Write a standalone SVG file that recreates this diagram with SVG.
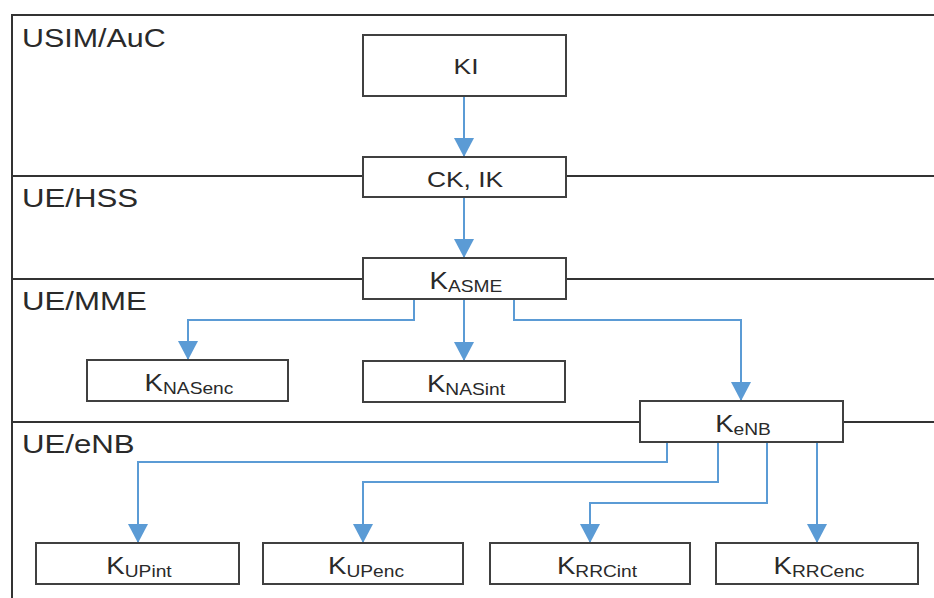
<svg xmlns="http://www.w3.org/2000/svg" width="934" height="598" viewBox="0 0 934 598">
<style>
.frame{fill:none;stroke:#333;stroke-width:2}
.box{fill:#fff;stroke:#404040;stroke-width:2}
.conn{fill:none;stroke:#5b9bd5;stroke-width:2}
.lane{font-family:"Liberation Sans",Arial,sans-serif;font-size:26px;fill:#2a2a2a}
.n{font-family:"Liberation Sans",Arial,sans-serif;font-size:23px;fill:#2a2a2a;text-anchor:middle}
.s{font-size:16px}
</style>
<defs>
<marker id="ah" markerUnits="userSpaceOnUse" markerWidth="19" markerHeight="20" refX="19" refY="10" orient="auto" viewBox="0 0 19 20">
<path d="M0,0 L19,10 L0,20 Z" fill="#5b9bd5"/>
</marker>
</defs>
<rect width="934" height="598" fill="#fff"/>
<g id="lanes">
<path class="frame" d="M934,15 H12 V598"/>
<path class="frame" d="M12,176 H934"/>
<path class="frame" d="M12,279 H934"/>
<path class="frame" d="M12,422 H934"/>
<text class="lane" transform="translate(22 47) scale(1.17 1)">USIM/AuC</text>
<text class="lane" transform="translate(22 207) scale(1.2 1)">UE/HSS</text>
<text class="lane" transform="translate(22 310) scale(1.2 1)">UE/MME</text>
<text class="lane" transform="translate(22 453) scale(1.2 1)">UE/eNB</text>
</g>
<g id="connectors">
<path class="conn" d="M464,96 V157" marker-end="url(#ah)"/>
<path class="conn" d="M464,197 V258" marker-end="url(#ah)"/>
<path class="conn" d="M414,299 V320 H188 V360" marker-end="url(#ah)"/>
<path class="conn" d="M464,299 V361" marker-end="url(#ah)"/>
<path class="conn" d="M514,299 V320 H741 V401" marker-end="url(#ah)"/>
<path class="conn" d="M667,442 V462 H138 V543" marker-end="url(#ah)"/>
<path class="conn" d="M718,442 V482 H363 V543" marker-end="url(#ah)"/>
<path class="conn" d="M767,442 V503 H590 V543" marker-end="url(#ah)"/>
<path class="conn" d="M817,442 V543" marker-end="url(#ah)"/>
</g>
<g id="KI"><rect class="box" x="363" y="35" width="203" height="61"/><text class="n" transform="translate(466 74) scale(1.2 1)" style="font-size:22px">KI</text></g>
<g id="CKIK"><rect class="box" x="363" y="157" width="203" height="40"/><text class="n" transform="translate(465 187) scale(1.2 1)" style="font-size:22px">CK, IK</text></g>
<g id="KASME"><rect class="box" x="363" y="258" width="203" height="41"/><text class="n" transform="translate(466 289) scale(1.2 1)">K<tspan class="s" dy="3">ASME</tspan></text></g>
<g id="KNASenc"><rect class="box" x="87" y="360" width="201" height="41"/><text class="n" transform="translate(189 391) scale(1.2 1)">K<tspan class="s" dy="3">NASenc</tspan></text></g>
<g id="KNASint"><rect class="box" x="363" y="361" width="202" height="41"/><text class="n" transform="translate(466 392) scale(1.2 1)">K<tspan class="s" dy="3">NASint</tspan></text></g>
<g id="KeNB"><rect class="box" x="640" y="401" width="203" height="41"/><text class="n" transform="translate(743 432) scale(1.2 1)">K<tspan class="s" dy="3">eNB</tspan></text></g>
<g id="KUPint"><rect class="box" x="36" y="543" width="203" height="41"/><text class="n" transform="translate(139 574) scale(1.2 1)">K<tspan class="s" dy="3">UPint</tspan></text></g>
<g id="KUPenc"><rect class="box" x="263" y="543" width="200" height="41"/><text class="n" transform="translate(366 574) scale(1.2 1)">K<tspan class="s" dy="3">UPenc</tspan></text></g>
<g id="KRRCint"><rect class="box" x="490" y="543" width="200" height="41"/><text class="n" transform="translate(597 574) scale(1.2 1)">K<tspan class="s" dy="3">RRCint</tspan></text></g>
<g id="KRRCenc"><rect class="box" x="716" y="543" width="202" height="41"/><text class="n" transform="translate(819 574) scale(1.2 1)">K<tspan class="s" dy="3">RRCenc</tspan></text></g>
</svg>
